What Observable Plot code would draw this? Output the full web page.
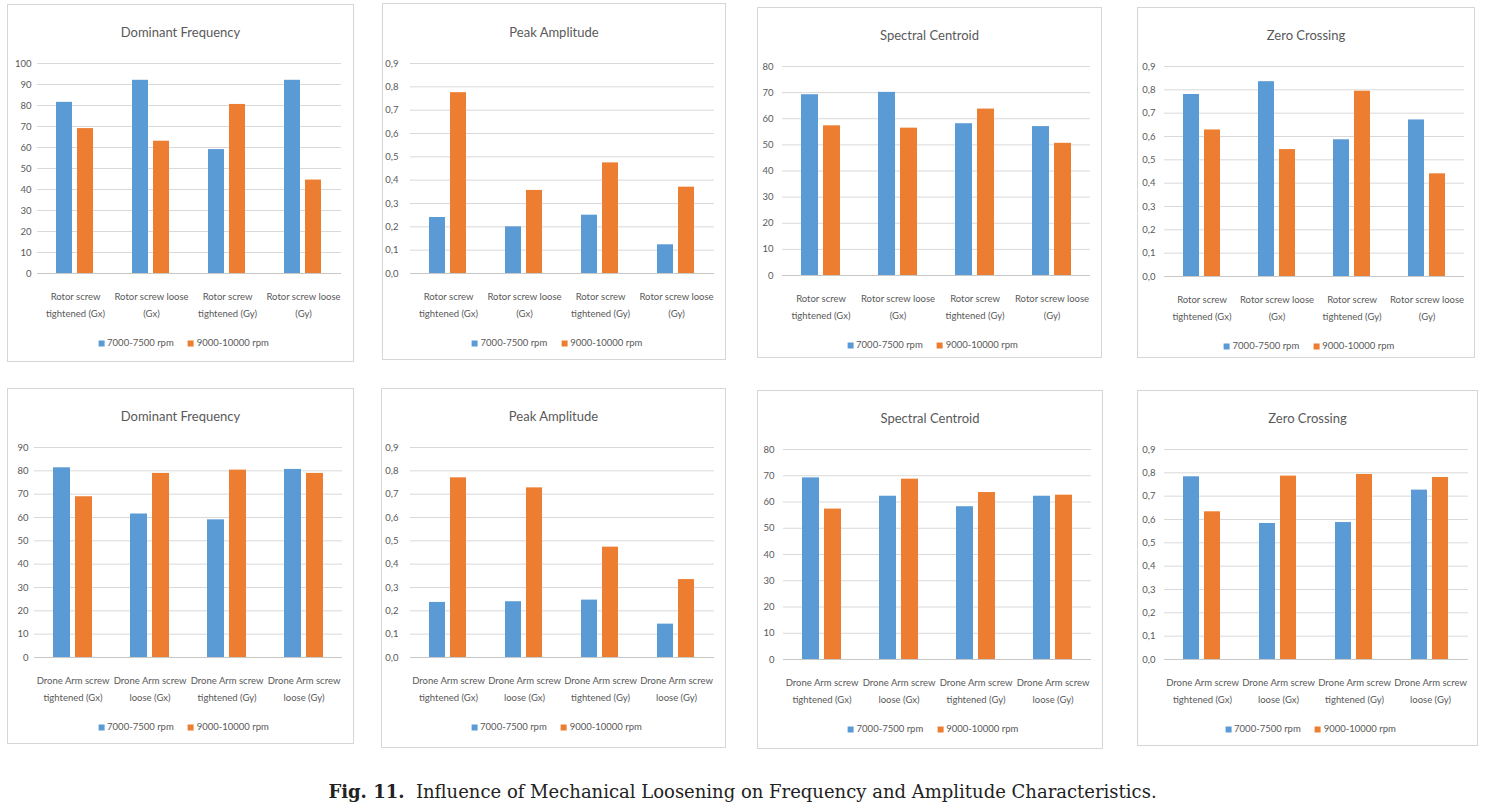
<!DOCTYPE html>
<html>
<head>
<meta charset="utf-8">
<script src="https://cdn.jsdelivr.net/npm/d3@7"></script>
<script src="https://cdn.jsdelivr.net/npm/@observablehq/plot@0.6"></script>
<style>
  html, body { margin: 0; padding: 0; background: #fff; }
  body { position: relative; width: 1485px; height: 810px; overflow: hidden; font-family: Lato, "Open Sans", sans-serif; }
  .box { position: absolute; border: 1px solid #d6d6d6; box-sizing: border-box; background: #fff; }
  .ptitle { position: absolute; transform: translate(-50%, -50%); font-size: 13px; color: #595959; white-space: nowrap; }
  .legend { position: absolute; transform: translate(-50%, -50%); display: flex; align-items: center; gap: 14px; font-size: 9.5px; color: #595959; white-space: nowrap; }
  .legend span.sw { display: inline-block; width: 6px; height: 6px; margin-right: 3px; vertical-align: middle; }
  .chart { position: absolute; }
  .caption { position: absolute; left: 0; width: 1485px; top: 781px; text-align: center; font-family: "DejaVu Serif", "Liberation Serif", serif; font-size: 18px; color: #222; white-space: pre; }
</style>
</head>
<body>
<script>
// ---- data ----
const seriesNames = ["7000-7500 rpm", "9000-10000 rpm"];
const seriesColors = ["#5b9bd5", "#ed7d31"];

const rotorLabels = ["Rotor screw\ntightened (Gx)", "Rotor screw loose\n(Gx)", "Rotor screw\ntightened (Gy)", "Rotor screw loose\n(Gy)"];
const armLabels = ["Drone Arm screw\ntightened (Gx)", "Drone Arm screw\nloose (Gx)", "Drone Arm screw\ntightened (Gy)", "Drone Arm screw\nloose (Gy)"];

const titles = ["Dominant Frequency", "Peak Amplitude", "Spectral Centroid", "Zero Crossing"];

const rotorDomFreqLow = [81.5, 92, 59, 92];
const rotorDomFreqHigh = [69, 63, 80.5, 44.5];
const rotorPeakAmpLow = [0.24, 0.20, 0.25, 0.123];
const rotorPeakAmpHigh = [0.775, 0.356, 0.474, 0.37];
const rotorCentroidLow = [69.2, 70.1, 58.1, 57];
const rotorCentroidHigh = [57.3, 56.4, 63.7, 50.6];
const rotorZeroLow = [0.78, 0.835, 0.586, 0.671];
const rotorZeroHigh = [0.628, 0.544, 0.794, 0.44];

const armDomFreqLow = [81.3, 61.5, 59, 80.6];
const armDomFreqHigh = [68.9, 78.9, 80.3, 78.9];
const armPeakAmpLow = [0.236, 0.239, 0.246, 0.143];
const armPeakAmpHigh = [0.77, 0.727, 0.473, 0.334];
const armCentroidLow = [69.2, 62.2, 58.2, 62.2];
const armCentroidHigh = [57.3, 68.7, 63.6, 62.6];
const armZeroLow = [0.783, 0.583, 0.587, 0.726];
const armZeroHigh = [0.633, 0.786, 0.793, 0.78];

const ticksFreq100 = [0, 10, 20, 30, 40, 50, 60, 70, 80, 90, 100];
const ticksFreq90 = [0, 10, 20, 30, 40, 50, 60, 70, 80, 90];
const ticksCentroid = [0, 10, 20, 30, 40, 50, 60, 70, 80];
const ticksUnit = [0, 0.1, 0.2, 0.3, 0.4, 0.5, 0.6, 0.7, 0.8, 0.9];

const captionBold = "Fig. 11.";
const captionText = "Influence of Mechanical Loosening on Frequency and Amplitude Characteristics.";

// ---- layout (page coordinates) ----
const layout = [
  {box: [7, 4, 354, 362], plot: [35, 63, 342, 273], pad: 6},
  {box: [382, 3, 726, 360], plot: [408, 63, 715, 273], pad: 12},
  {box: [757, 7, 1102, 358], plot: [782, 66, 1090, 275], pad: 9},
  {box: [1137, 7, 1475, 358], plot: [1163, 66, 1465, 276], pad: 9},
  {box: [7, 388, 354, 744], plot: [33, 447, 342, 657], pad: 6},
  {box: [381, 388, 726, 748], plot: [408, 447, 715, 657], pad: 12},
  {box: [757, 390, 1103, 749], plot: [782, 449, 1091, 659], pad: 9},
  {box: [1137, 390, 1478, 746], plot: [1163, 449, 1468, 659], pad: 9}
];

const fmtInt = d => String(d);
const fmtComma = d => d.toFixed(1).replace(".", ",");

const panels = [
  {title: titles[0], cats: rotorLabels, low: rotorDomFreqLow, high: rotorDomFreqHigh, ticks: ticksFreq100, fmt: fmtInt},
  {title: titles[1], cats: rotorLabels, low: rotorPeakAmpLow, high: rotorPeakAmpHigh, ticks: ticksUnit, fmt: fmtComma},
  {title: titles[2], cats: rotorLabels, low: rotorCentroidLow, high: rotorCentroidHigh, ticks: ticksCentroid, fmt: fmtInt},
  {title: titles[3], cats: rotorLabels, low: rotorZeroLow, high: rotorZeroHigh, ticks: ticksUnit, fmt: fmtComma},
  {title: titles[0], cats: armLabels, low: armDomFreqLow, high: armDomFreqHigh, ticks: ticksFreq90, fmt: fmtInt},
  {title: titles[1], cats: armLabels, low: armPeakAmpLow, high: armPeakAmpHigh, ticks: ticksUnit, fmt: fmtComma},
  {title: titles[2], cats: armLabels, low: armCentroidLow, high: armCentroidHigh, ticks: ticksCentroid, fmt: fmtInt},
  {title: titles[3], cats: armLabels, low: armZeroLow, high: armZeroHigh, ticks: ticksUnit, fmt: fmtComma}
];

function el(tag, cls, styles) {
  const e = document.createElement(tag);
  if (cls) e.className = cls;
  Object.assign(e.style, styles || {});
  return e;
}

panels.forEach((p, i) => {
  const L = layout[i];
  const [bl, bt, br, bb] = L.box;
  const [pl, pt, pr, pb] = L.plot;
  const W = br - bl, H = bb - bt;

  const box = el("div", "box", {left: bl + "px", top: bt + "px", width: W + "px", height: H + "px"});
  document.body.appendChild(box);

  const data = [];
  p.cats.forEach((c, k) => {
    data.push({cat: c, series: seriesNames[0], value: p.low[k]});
    data.push({cat: c, series: seriesNames[1], value: p.high[k]});
  });

  const chart = Plot.plot({
    width: W,
    height: H,
    marginLeft: pl - bl,
    marginRight: br - pr,
    marginTop: pt - bt,
    marginBottom: bb - pb,
    style: {fontFamily: "Lato, 'Open Sans', sans-serif", color: "#595959", background: "transparent", overflow: "visible"},
    fx: {domain: p.cats, paddingInner: 0, paddingOuter: 0, label: null},
    x: {domain: seriesNames, paddingInner: 0.227, paddingOuter: 0.86, axis: null},
    y: {domain: [p.ticks[0], p.ticks[p.ticks.length - 1]], axis: null},
    color: {domain: seriesNames, range: seriesColors},
    marks: [
      Plot.ruleY(p.ticks.slice(1), {stroke: "#d9d9d9", strokeWidth: 1}),
      Plot.barY(data, {fx: "cat", x: "series", y: "value", fill: "series"}),
      Plot.ruleY([0], {stroke: "#c8c8c8", strokeWidth: 1}),
      Plot.axisY({ticks: p.ticks, tickSize: 0, tickPadding: L.pad, tickFormat: p.fmt, fontSize: 9.5, fill: "#595959", label: null}),
      Plot.axisFx({anchor: "bottom", tickSize: 0, tickPadding: 14, fontSize: 9.5, fill: "#595959", lineHeight: 1.8, lineAnchor: "top", label: null})
    ]
  });
  chart.classList.add("chart");
  Object.assign(chart.style, {left: bl + "px", top: bt + "px", position: "absolute"});
  document.body.appendChild(chart);

  const t = el("div", "ptitle", {left: ((bl + br) / 2) + "px", top: (pt - 31) + "px"});
  t.textContent = p.title;
  document.body.appendChild(t);

  const lg = el("div", "legend", {left: ((bl + br) / 2 + 3) + "px", top: (pb + 69) + "px"});
  seriesNames.forEach((s, k) => {
    const item = el("span");
    const sw = el("span", "sw", {background: seriesColors[k]});
    item.appendChild(sw);
    item.appendChild(document.createTextNode(s));
    lg.appendChild(item);
  });
  document.body.appendChild(lg);
});

const cap = el("div", "caption");
const b = el("b");
b.textContent = captionBold;
cap.appendChild(b);
cap.appendChild(document.createTextNode("  " + captionText));
document.body.appendChild(cap);
</script>
</body>
</html>
